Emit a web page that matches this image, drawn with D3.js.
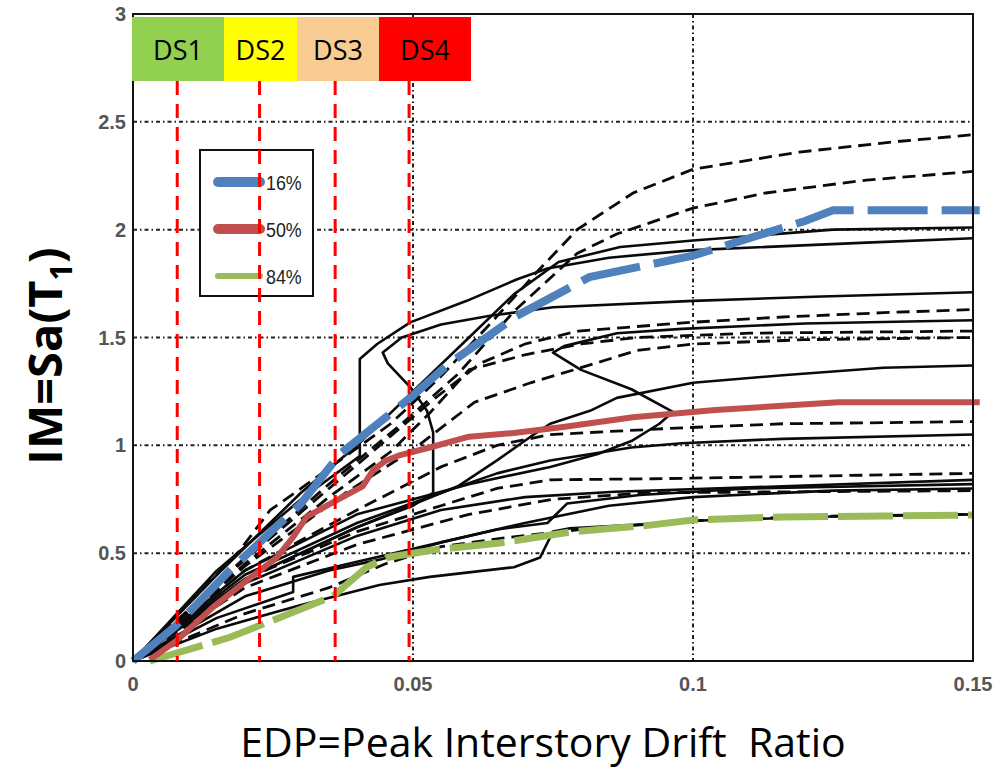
<!DOCTYPE html>
<html>
<head>
<meta charset="utf-8">
<script src="https://cdn.jsdelivr.net/npm/d3@7"></script>
<style>
  body { margin: 0; background: #fff; }
  svg { display: block; }
</style>
</head>
<body>
<svg id="chart"></svg>
<script>
// ---- data ----
var xTicks = [0, 0.05, 0.1, 0.15];
var yTicks = [0, 0.5, 1, 1.5, 2, 2.5, 3];
var dsNames = ["DS1", "DS2", "DS3", "DS4"];
var dsLimits = [0.0079, 0.0226, 0.0361, 0.0493];   // damage state drift limits
var legendNames = ["16%", "50%", "84%"];

// fractile curves (drift, Sa)
var p16 = [[0,0],[0.0075,0.16],[0.0173,0.42],[0.03,0.73],[0.037,0.96],[0.0495,1.22],[0.056,1.37],
  [0.0685,1.6],[0.0815,1.78],[0.1,1.88],[0.12,2.04],[0.125,2.09],[0.1512,2.09]];
var p50 = [[0.003,0.005],[0.0079,0.097],[0.0143,0.25],[0.0204,0.375],[0.0257,0.48],[0.0286,0.575],
  [0.031,0.668],[0.0364,0.746],[0.041,0.81],[0.0429,0.885],[0.045,0.927],[0.0477,0.955],[0.053,0.99],
  [0.06,1.04],[0.068,1.057],[0.0768,1.085],[0.0893,1.13],[0.104,1.164],[0.126,1.2],[0.1512,1.2]];
var p84 = [[0.003,0],[0.0173,0.11],[0.028,0.22],[0.0357,0.3],[0.0418,0.436],[0.0454,0.48],[0.0536,0.515],
  [0.0655,0.547],[0.078,0.598],[0.0923,0.63],[0.1,0.654],[0.116,0.668],[0.134,0.672],[0.1498,0.677]];

// individual IDA curves, solid
var idaSolid = [
  [[0,0],[0.015,0.4],[0.03,0.78],[0.04,1.0],[0.05,1.25],[0.06,1.5],[0.068,1.7],[0.076,1.85],[0.087,1.92],[0.1,1.95],[0.125,2.0],[0.15,2.01]],
  [[0,0],[0.015,0.42],[0.03,0.75],[0.0405,0.95],[0.0405,1.4],[0.0436,1.47],[0.0495,1.57],[0.0596,1.67],[0.0686,1.77],[0.074,1.82],[0.085,1.87],[0.1,1.905],[0.131,1.94],[0.15,1.96]],
  [[0,0],[0.02,0.38],[0.04,0.62],[0.05,0.72],[0.0536,0.78],[0.0536,1.06],[0.0525,1.16],[0.0495,1.27],[0.0455,1.38],[0.0446,1.43],[0.048,1.5],[0.055,1.56],[0.0635,1.6],[0.075,1.64],[0.1,1.67],[0.123,1.69],[0.15,1.71]],
  [[0,0],[0.02,0.42],[0.04,0.68],[0.06,0.82],[0.0745,0.9],[0.083,0.96],[0.089,1.02],[0.094,1.1],[0.0964,1.155],[0.089,1.26],[0.08,1.35],[0.075,1.43],[0.077,1.46],[0.0864,1.52],[0.098,1.54],[0.12,1.565],[0.15,1.58]],
  [[0,0],[0.02,0.38],[0.04,0.62],[0.058,0.81],[0.065,0.93],[0.071,1.04],[0.0745,1.1],[0.0816,1.16],[0.0864,1.22],[0.1,1.29],[0.116,1.325],[0.134,1.36],[0.15,1.37]],
  [[0,0],[0.02,0.4],[0.04,0.64],[0.055,0.78],[0.065,0.87],[0.0745,0.93],[0.089,0.99],[0.098,1.01],[0.116,1.03],[0.15,1.05]],
  [[0,0],[0.02,0.36],[0.04,0.58],[0.055,0.7],[0.07,0.76],[0.086,0.785],[0.116,0.81],[0.15,0.84]],
  [[0,0],[0.015,0.15],[0.03,0.26],[0.044,0.352],[0.053,0.39],[0.068,0.435],[0.0727,0.48],[0.075,0.6],[0.078,0.615],[0.092,0.635],[0.1,0.65],[0.125,0.67],[0.15,0.68]],
  [[0,0],[0.02,0.3],[0.035,0.42],[0.044,0.47],[0.055,0.55],[0.065,0.61],[0.074,0.64],[0.0775,0.73],[0.0905,0.77],[0.11,0.8],[0.15,0.82]],
  [[0,0],[0.015,0.2],[0.0286,0.32],[0.0286,0.39],[0.04,0.46],[0.055,0.55],[0.07,0.64],[0.085,0.72],[0.1,0.76],[0.125,0.79],[0.15,0.8]]
];

// individual IDA curves, dashed
var idaDashed = [
  [[0,0],[0.019,0.51],[0.0245,0.7],[0.03,0.8],[0.038,0.95],[0.046,1.1],[0.055,1.32],[0.064,1.57],[0.072,1.8],[0.0793,2.0],[0.0893,2.17],[0.1,2.28],[0.119,2.36],[0.137,2.41],[0.15,2.44]],
  [[0,0],[0.02,0.48],[0.035,0.82],[0.048,1.1],[0.058,1.33],[0.068,1.62],[0.0793,1.89],[0.0864,1.98],[0.1,2.1],[0.113,2.17],[0.131,2.23],[0.15,2.27]],
  [[0,0],[0.02,0.47],[0.035,0.8],[0.045,1.02],[0.054,1.22],[0.062,1.38],[0.07,1.47],[0.0795,1.53],[0.0995,1.57],[0.116,1.595],[0.134,1.615],[0.15,1.63]],
  [[0,0],[0.02,0.45],[0.035,0.76],[0.046,0.97],[0.053,1.15],[0.06,1.35],[0.07,1.42],[0.08,1.47],[0.09,1.5],[0.11,1.52],[0.15,1.53]],
  [[0,0],[0.02,0.44],[0.038,0.78],[0.05,0.98],[0.061,1.2],[0.071,1.29],[0.08,1.36],[0.09,1.44],[0.1,1.47],[0.12,1.49],[0.15,1.5]],
  [[0,0],[0.02,0.42],[0.04,0.7],[0.055,0.9],[0.065,1.0],[0.0745,1.05],[0.097,1.08],[0.116,1.1],[0.15,1.11]],
  [[0,0],[0.02,0.38],[0.04,0.6],[0.055,0.72],[0.065,0.8],[0.0745,0.84],[0.093,0.845],[0.116,0.855],[0.15,0.87]],
  [[0,0],[0.02,0.34],[0.04,0.54],[0.06,0.68],[0.075,0.75],[0.092,0.78],[0.15,0.79]],
  [[0,0],[0.02,0.22],[0.035,0.34],[0.045,0.45],[0.055,0.53],[0.066,0.57],[0.08,0.61],[0.1,0.65],[0.12,0.67],[0.15,0.68]]
];

// ---- layout ----
var width = 997, height = 774;
var mLeft = 133, mRight = 973, mTop = 14, mBottom = 661;

var svg = d3.select("#chart").attr("width", width).attr("height", height);
svg.append("rect").attr("width", width).attr("height", height).attr("fill", "#fff");

var x = d3.scaleLinear().domain([0, 0.15]).range([mLeft, mRight]);
var y = d3.scaleLinear().domain([0, 3]).range([mBottom, mTop]);

var line = d3.line().x(d => x(d[0])).y(d => y(d[1]));

// grid (matlab style dotted)
var grid = svg.append("g").attr("stroke", "#222").attr("stroke-width", 2).attr("stroke-dasharray", "4,3,1.5,3");
grid.selectAll(".gx").data(xTicks.slice(1, -1)).enter().append("line")
    .attr("x1", d => x(d)).attr("x2", d => x(d)).attr("y1", mTop).attr("y2", mBottom);
grid.selectAll(".gy").data(yTicks.slice(1, -1)).enter().append("line")
    .attr("x1", mLeft).attr("x2", mRight).attr("y1", d => y(d)).attr("y2", d => y(d));

// IDA curves
svg.append("g").selectAll("path").data(idaSolid).enter().append("path")
    .attr("d", line).attr("fill", "none").attr("stroke", "#0a0a0a").attr("stroke-width", 2.6)
    .attr("stroke-linejoin", "round");
svg.append("g").selectAll("path").data(idaDashed).enter().append("path")
    .attr("d", line).attr("fill", "none").attr("stroke", "#0a0a0a").attr("stroke-width", 2.8)
    .attr("stroke-dasharray", "13,7");

// fractiles
svg.append("path").attr("d", line(p84)).attr("fill", "none").attr("stroke", "#9bbb59")
    .attr("stroke-width", 7).attr("stroke-dasharray", "55,10");
svg.append("path").attr("d", line(p50)).attr("fill", "none").attr("stroke", "#c0504d")
    .attr("stroke-width", 6).attr("stroke-linejoin", "round");
svg.append("path").attr("d", line(p16)).attr("fill", "none").attr("stroke", "#4f81bd")
    .attr("stroke-width", 8).attr("stroke-dasharray", "60,14");

// axes box
svg.append("rect").attr("x", mLeft).attr("y", mTop).attr("width", mRight - mLeft).attr("height", mBottom - mTop)
    .attr("fill", "none").attr("stroke", "#111").attr("stroke-width", 2);

// tick labels
var tickFont = "'Liberation Sans', Arial, sans-serif";
svg.append("g").selectAll("text").data(xTicks).enter().append("text")
    .attr("x", d => x(d)).attr("y", mBottom + 30).attr("text-anchor", "middle")
    .attr("font-family", tickFont).attr("font-weight", "bold").attr("font-size", 20).attr("fill", "#555")
    .text(d => d);
svg.append("g").selectAll("text").data(yTicks).enter().append("text")
    .attr("x", mLeft - 7).attr("y", d => y(d) + 7).attr("text-anchor", "end")
    .attr("font-family", tickFont).attr("font-weight", "bold").attr("font-size", 20).attr("fill", "#555")
    .text(d => d);

// legend
var legend = svg.append("g");
legend.append("rect").attr("x", 200).attr("y", 150).attr("width", 113).attr("height", 146)
    .attr("fill", "#fff").attr("stroke", "#111").attr("stroke-width", 2);
var legendColors = ["#4f81bd", "#c0504d", "#9bbb59"];
var legendWidths = [10, 10, 6];
legendNames.forEach(function (name, i) {
    var ly = 182 + i * 47;
    legend.append("line").attr("x1", 218).attr("x2", 260).attr("y1", ly).attr("y2", ly)
        .attr("stroke", legendColors[i]).attr("stroke-width", legendWidths[i]).attr("stroke-linecap", "round");
    legend.append("text").attr("x", 266).attr("y", ly + 8)
        .attr("font-family", "'Liberation Sans', sans-serif")
        .attr("transform", "translate(" + (266 * 0.15) + ",0) scale(0.85,1)")
        .attr("font-size", 21).attr("fill", "#222").text(name);
});

// damage state limits
svg.append("g").selectAll("line").data(dsLimits).enter().append("line")
    .attr("x1", d => x(d)).attr("x2", d => x(d)).attr("y1", 81).attr("y2", mBottom)
    .attr("stroke", "#ff0000").attr("stroke-width", 3).attr("stroke-dasharray", "14,9");

// damage state boxes
var dsEdges = [132, 224, 297, 379, 471];
var dsColors = ["#92d050", "#ffff00", "#f8cb92", "#ff0000"];
var ds = svg.append("g").selectAll("g").data(dsNames).enter().append("g");
ds.append("rect").attr("x", (d, i) => dsEdges[i]).attr("y", 17)
    .attr("width", (d, i) => dsEdges[i + 1] - dsEdges[i]).attr("height", 64)
    .attr("fill", (d, i) => dsColors[i]);
ds.append("text").attr("x", (d, i) => (dsEdges[i] + dsEdges[i + 1]) / 2).attr("y", 60)
    .attr("text-anchor", "middle").attr("font-family", "'Open Sans', 'Noto Sans', sans-serif")
    .attr("font-size", 27).attr("fill", "#000").text(d => d);

// axis titles
svg.append("text").attr("x", 543).attr("y", 757).attr("text-anchor", "middle")
    .attr("font-family", "'Open Sans', 'Noto Sans', sans-serif").attr("font-size", 41).attr("fill", "#000")
    .style("white-space", "pre")
    .text("EDP=Peak Interstory Drift  Ratio");

var yt = svg.append("text").attr("transform", "translate(62,356) rotate(-90)").attr("text-anchor", "middle")
    .attr("font-family", "'Open Sans', 'Noto Sans', sans-serif").attr("font-weight", "bold")
    .attr("font-size", 47).attr("fill", "#000");
yt.append("tspan").text("IM=Sa(T");
yt.append("tspan").attr("font-size", 30).attr("dy", 10).text("1");
yt.append("tspan").attr("dy", -10).text(")");
</script>
</body>
</html>
